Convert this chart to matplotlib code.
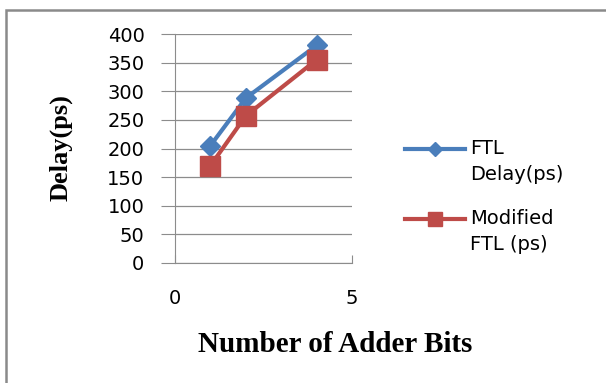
import matplotlib.pyplot as plt
from matplotlib.lines import Line2D
from matplotlib.patches import Rectangle

bits = [1, 2, 4]
ftl_delay = [205, 288, 380]
modified_ftl = [170, 257, 355]
labels = ["FTL\nDelay(ps)", "Modified\nFTL (ps)"]

W, H = 606, 383
fig = plt.figure(figsize=(W / 100, H / 100), dpi=100)
# chart area border (runs off the right and bottom edges)
fig.patches.append(Rectangle((5.5 / W, -0.2), 1.2, 1.2 - 9.5 / H,
                             transform=fig.transFigure, fill=False,
                             edgecolor="#8a8a8a", linewidth=1.8))

ax = fig.add_axes([175 / W, 1 - 263 / H, 177 / W, 229 / H])
styles = [dict(color="#4a7ebb", marker="D", ms=10),
          dict(color="#be4b48", marker="s", ms=14)]
for y, st in zip([ftl_delay, modified_ftl], styles):
    ax.plot(bits, y, lw=3, zorder=3, **st)

ax.set_xlim(0, 5)
ax.set_ylim(0, 400)
ax.set_xticks([0, 5])
ax.set_yticks(range(0, 401, 50))
ax.grid(axis="y", color="#8c8c8c", lw=0.9)
for s in ["top", "right"]:
    ax.spines[s].set_visible(False)
for s in ["left", "bottom"]:
    ax.spines[s].set_color("#8c8c8c")
ax.tick_params(axis="y", direction="out", length=10, color="#8c8c8c",
               labelsize=14, pad=12)
ax.tick_params(axis="x", direction="in", length=6, color="#8c8c8c",
               labelsize=14, pad=19)

ax.set_ylabel("Delay(ps)", family="Liberation Serif", fontweight="bold",
              fontsize=19)
ax.yaxis.set_label_coords(-(175 - 73) / 177, (263 - 148) / 229)
fig.text(335 / W, 1 - 345 / H, "Number of Adder Bits",
         family="Liberation Serif", fontweight="bold", fontsize=21,
         ha="center", va="center")

# legend: handle sits beside the first line of each label
for i, (lab, st) in enumerate(zip(labels, styles)):
    yc = 1 - (149 + 70 * i) / H
    fig.add_artist(Line2D([405 / W, 465 / W], [yc, yc], lw=3,
                          color=st["color"]))
    fig.add_artist(Line2D([435 / W], [yc], ls="none", color=st["color"],
                          marker=st["marker"], ms=st["ms"] * 0.7))
    fig.text(470 / W, yc + 10 / H, lab, fontsize=14, va="top",
             linespacing=1.5)

fig.savefig("out.png", dpi=100)
